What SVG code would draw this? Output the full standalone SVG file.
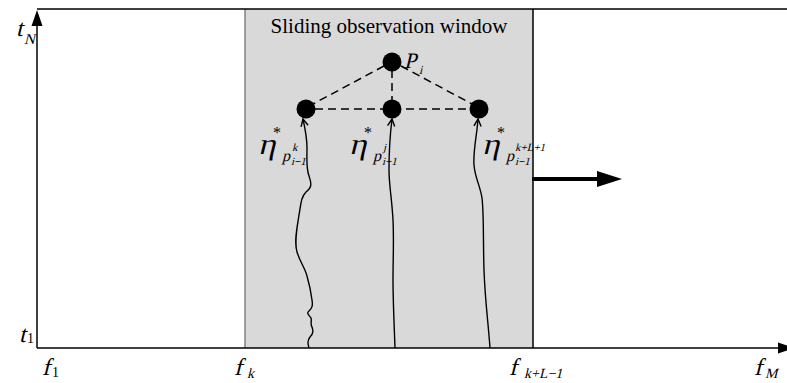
<svg xmlns="http://www.w3.org/2000/svg" width="787" height="383" viewBox="0 0 787 383">
<style>
text{font-family:'Liberation Serif','Times New Roman',Times,serif;fill:#000}
.dash{stroke:#000;stroke-width:1.5;stroke-dasharray:8 5;fill:none}
.curve{stroke:#000;stroke-width:1.4;fill:none}
.node{fill:#000}
</style>
<defs>
<marker id="open" viewBox="0 0 10 10" refX="9" refY="5" markerWidth="9" markerHeight="9" markerUnits="userSpaceOnUse" orient="auto">
<path d="M1,1 L9,5 L1,9" fill="none" stroke="#000" stroke-width="1.6"/>
</marker>
</defs>
<rect width="787" height="383" fill="#fff"/>
<g id="window">
<rect x="245" y="9" width="288" height="339" fill="#d9d9d9"/>
<line x1="245" y1="9" x2="245" y2="348" stroke="#808080" stroke-width="1.5"/>
<line x1="533" y1="9" x2="533" y2="348" stroke="#000" stroke-width="1.5"/>
<text x="389" y="33" font-size="21" text-anchor="middle">Sliding observation window</text>
</g>
<g id="axes">
<line x1="37" y1="9" x2="787" y2="9" stroke="#000" stroke-width="1.5"/>
<line x1="37" y1="348" x2="37" y2="24" stroke="#000" stroke-width="1.5"/>
<polygon points="37,10 31.5,26 42.5,26" fill="#000"/>
<line x1="37" y1="348" x2="780" y2="348" stroke="#000" stroke-width="1.5"/>
<polygon points="794,348 778,342.5 778,353.5" fill="#000"/>
</g>
<g id="move-arrow">
<line x1="532" y1="179" x2="600" y2="179" stroke="#000" stroke-width="4"/>
<polygon points="622,179 597,171 597,187" fill="#000"/>
</g>
<g id="connectors">
<line class="dash" x1="384" y1="66" x2="313" y2="104"/>
<line class="dash" x1="401" y1="66" x2="472" y2="104"/>
<line class="dash" x1="392" y1="70" x2="392" y2="100"/>
<line class="dash" x1="315" y1="109" x2="470" y2="109"/>
<path class="curve" marker-end="url(#open)" d="M309,348 C308,344 307,341 310,337 C314,333 313,330 312,327 C310,324 312,321 311,318 C309,315 306,313 309,311 C312,308 313,306 312,300 C311,292 309,283 307,276 C305,268 300,262 297,252 C294,242 297,228 299,215 C301,204 301,197 306,192 C313,187 311,182 309,176 C306,168 307,160 307,148 C307,138 305,128 303,119"/>
<path class="curve" marker-end="url(#open)" d="M395,348 C394,320 393,300 393,280 C393,260 394,240 393,220 C392,200 389,185 389,170 C389,150 390,135 392,119"/>
<path class="curve" marker-end="url(#open)" d="M490,348 C488,320 485,300 484,270 C483,240 484,215 482,198 C480,185 475,178 474,165 C473,150 477,135 478,119"/>
</g>
<g id="node-Pi">
<circle class="node" cx="392" cy="62" r="9.5"/>
<text transform="translate(404,68) skewX(-14)" font-size="22">P</text>
<text transform="translate(419,74) skewX(-14)" font-size="12">i</text>
</g>
<g id="node-k">
<circle class="node" cx="306" cy="109" r="9.5"/>
<text transform="translate(258,154) skewX(-14) scale(1.12,1)" font-size="30">η</text>
<text x="273" y="138" font-size="16">*</text>
<text transform="translate(282,161) skewX(-14)" font-size="16">p</text>
<text transform="translate(292,151) skewX(-14)" font-size="11">k</text>
<text transform="translate(291,165) skewX(-14)" font-size="11">i−1</text>
</g>
<g id="node-j">
<circle class="node" cx="392" cy="109" r="9.5"/>
<text transform="translate(349,154) skewX(-14) scale(1.12,1)" font-size="30">η</text>
<text x="364" y="138" font-size="16">*</text>
<text transform="translate(373,161) skewX(-14)" font-size="16">p</text>
<text transform="translate(383,151) skewX(-14)" font-size="11">j</text>
<text transform="translate(382,165) skewX(-14)" font-size="11">i−1</text>
</g>
<g id="node-kL">
<circle class="node" cx="479" cy="109" r="9.5"/>
<text transform="translate(482,154) skewX(-14) scale(1.12,1)" font-size="30">η</text>
<text x="497" y="138" font-size="16">*</text>
<text transform="translate(506,161) skewX(-14)" font-size="16">p</text>
<text transform="translate(515,151) skewX(-14)" font-size="11">k+L+1</text>
<text transform="translate(515,165) skewX(-14)" font-size="11">i−1</text>
</g>
<g id="labels">
<text transform="translate(16,36) skewX(-14)" font-size="24">t</text>
<text transform="translate(24,44) skewX(-14)" font-size="15">N</text>
<text transform="translate(19,342) skewX(-14)" font-size="24">t</text>
<text x="27" y="343" font-size="14">1</text>
<text transform="translate(42,375) skewX(-14)" font-size="24">f</text>
<text x="52" y="377" font-size="14">1</text>
<text transform="translate(234,375) skewX(-14)" font-size="24">f</text>
<text transform="translate(247,378) skewX(-14)" font-size="14">k</text>
<text transform="translate(509,375) skewX(-14)" font-size="24">f</text>
<text transform="translate(524,378) skewX(-14)" font-size="14">k+L−1</text>
<text transform="translate(754,375) skewX(-14)" font-size="24">f</text>
<text transform="translate(765,378) skewX(-14)" font-size="14">M</text>
</g>
</svg>
